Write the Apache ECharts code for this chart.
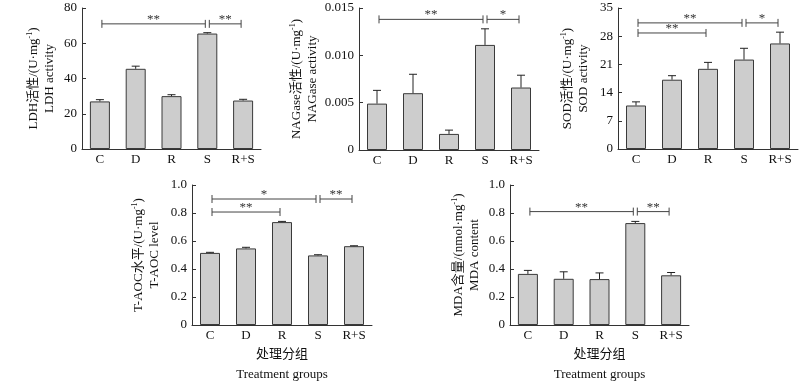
<!DOCTYPE html>
<html>
<head>
<meta charset="utf-8">
<script src="https://cdn.jsdelivr.net/npm/echarts@6/dist/echarts.min.js"></script>
<style>
  html, body { margin: 0; padding: 0; background: #fff; }
  #main { width: 810px; height: 388px; }
</style>
</head>
<body>
<div id="main"></div>
<script>
var categories = ['C', 'D', 'R', 'S', 'R+S']

// mean values and error bars (upper part only)
var ldhMean = [27, 45.5, 30, 65.5, 27.5]
var ldhErr = [1, 1.5, 0.8, 0.5, 0.7]
var nagMean = [0.0049, 0.006, 0.0017, 0.0111, 0.0066]
var nagErr = [0.0014, 0.002, 0.0004, 0.0017, 0.0013]
var sodMean = [10.8, 17.2, 19.9, 22.2, 26.2]
var sodErr = [0.9, 1.0, 1.6, 2.8, 2.8]
var taocMean = [0.515, 0.547, 0.735, 0.497, 0.563]
var taocErr = [0.004, 0.008, 0.005, 0.005, 0.003]
var mdaMean = [0.365, 0.33, 0.328, 0.728, 0.355]
var mdaErr = [0.025, 0.05, 0.044, 0.012, 0.02]

// significance brackets: [from, to, level, stars]
var ldhSig = [['C', 'S', 71, '**'], ['S', 'R+S', 71, '**']]
var nagSig = [['C', 'S', 0.0138, '**'], ['S', 'R+S', 0.0138, '*']]
var sodSig = [['C', 'S', 31.3, '**'], ['S', 'R+S', 31.3, '*'], ['C', 'R', 28.8, '**']]
var taocSig = [['C', 'S', 0.9, '*'], ['S', 'R+S', 0.9, '**'], ['C', 'R', 0.807, '**']]
var mdaSig = [['C', 'S', 0.81, '**'], ['S', 'R+S', 0.81, '**']]

var FONT = '"Liberation Serif", "Times New Roman", "Noto Sans CJK SC", serif'
var AXIS_COLOR = '#333'

var panels = [
  { mean: ldhMean, err: ldhErr, sig: ldhSig, max: 80, interval: 20, digits: 0,
    title: ['LDH活性/(U·mg', 'LDH activity'], gap: 24,
    grid: { left: 82, top: 8, width: 179, height: 141 } },
  { mean: nagMean, err: nagErr, sig: nagSig, max: 0.015, interval: 0.005, digits: 3,
    title: ['NAGase活性/(U·mg', 'NAGase activity'], gap: 38,
    grid: { left: 359, top: 8, width: 180, height: 142 } },
  { mean: sodMean, err: sodErr, sig: sodSig, max: 35, interval: 7, digits: 0,
    title: ['SOD活性/(U·mg', 'SOD activity'], gap: 26,
    grid: { left: 618, top: 8, width: 180, height: 141 } },
  { mean: taocMean, err: taocErr, sig: taocSig, max: 1, interval: 0.2, digits: 1,
    title: ['T-AOC水平/(U·mg', 'T-AOC level'], gap: 29, xName: true,
    grid: { left: 192, top: 185, width: 180, height: 140 } },
  { mean: mdaMean, err: mdaErr, sig: mdaSig, max: 1, interval: 0.2, digits: 1,
    title: ['MDA含量/(nmol·mg', 'MDA content'], gap: 27, xName: true,
    grid: { left: 510, top: 185, width: 179, height: 140 } }
]

var grids = []
var xAxes = []
var yAxes = []
var series = []

panels.forEach(function (p, i) {
  grids.push(p.grid)
  xAxes.push({
    type: 'category',
    gridIndex: i,
    data: categories,
    axisLine: { lineStyle: { color: AXIS_COLOR, width: 1 } },
    axisTick: { inside: true, length: 4, lineStyle: { color: AXIS_COLOR } },
    axisLabel: { color: '#111', fontSize: 13, fontFamily: FONT, margin: 4 },
    name: p.xName ? '处理分组\nTreatment groups' : '',
    nameLocation: 'middle',
    nameGap: 20,
    nameTextStyle: { color: '#111', fontSize: 13, fontFamily: FONT, lineHeight: 20 }
  })
  yAxes.push({
    type: 'value',
    gridIndex: i,
    min: 0,
    max: p.max,
    interval: p.interval,
    splitLine: { show: false },
    axisLine: { show: true, lineStyle: { color: AXIS_COLOR, width: 1 } },
    axisTick: { show: true, inside: true, length: 4, lineStyle: { color: AXIS_COLOR } },
    axisLabel: {
      color: '#111', fontSize: 13, fontFamily: FONT, margin: 5,
      formatter: function (v) { return v === 0 ? '0' : v.toFixed(p.digits) }
    },
    name: '{a|' + p.title[0] + '}{s|-1}{a|)}\n{a|' + p.title[1] + '}',
    nameLocation: 'middle',
    nameRotate: 90,
    nameGap: p.gap,
    nameTextStyle: {
      color: '#111',
      fontFamily: FONT,
      fontSize: 13,
      lineHeight: 16,
      rich: {
        a: { fontSize: 13, fontFamily: FONT, color: '#111', lineHeight: 16 },
        s: { fontSize: 8, fontFamily: FONT, color: '#111', verticalAlign: 'top', lineHeight: 16 }
      }
    }
  })

  series.push({
    type: 'bar',
    xAxisIndex: i,
    yAxisIndex: i,
    barWidth: 20,
    data: p.mean,
    itemStyle: { color: '#cdcdcd', borderColor: '#3a3a3a', borderWidth: 1 },
    silent: true
  })

  // upper error bars
  series.push({
    type: 'custom',
    xAxisIndex: i,
    yAxisIndex: i,
    silent: true,
    encode: { x: 0, y: 1 },
    data: p.mean.map(function (m, k) { return [k, m, p.err[k]] }),
    renderItem: function (params, api) {
      var k = api.value(0)
      var base = api.coord([k, api.value(1)])
      var top = api.coord([k, api.value(1) + api.value(2)])
      var style = { stroke: '#222', lineWidth: 1 }
      return {
        type: 'group',
        children: [
          { type: 'line', shape: { x1: base[0], y1: base[1], x2: top[0], y2: top[1] }, style: style },
          { type: 'line', shape: { x1: top[0] - 4, y1: top[1], x2: top[0] + 4, y2: top[1] }, style: style }
        ]
      }
    },
    z: 3
  })

  // significance brackets
  series.push({
    type: 'custom',
    xAxisIndex: i,
    yAxisIndex: i,
    silent: true,
    encode: { x: 0, y: 2 },
    data: p.sig.map(function (s) {
      return [categories.indexOf(s[0]), categories.indexOf(s[1]), s[2], s[3]]
    }),
    renderItem: function (params, api) {
      var a = api.coord([api.value(0), api.value(2)])
      var b = api.coord([api.value(1), api.value(2)])
      var x1 = a[0] + 2
      var x2 = b[0] - 2
      var y = a[1]
      var style = { stroke: '#444', lineWidth: 1 }
      return {
        type: 'group',
        children: [
          { type: 'line', shape: { x1: x1, y1: y, x2: x2, y2: y }, style: style },
          { type: 'line', shape: { x1: x1, y1: y - 4, x2: x1, y2: y + 4 }, style: style },
          { type: 'line', shape: { x1: x2, y1: y - 4, x2: x2, y2: y + 4 }, style: style },
          {
            type: 'text',
            x: (x1 + x2) / 2,
            y: y + 2,
            style: {
              text: p.sig[params.dataIndex][3],
              fill: '#333',
              font: '13px ' + FONT,
              align: 'center',
              verticalAlign: 'bottom'
            }
          }
        ]
      }
    },
    z: 4
  })
})

var chart = echarts.init(document.getElementById('main'))
chart.setOption({
  animation: false,
  grid: grids,
  xAxis: xAxes,
  yAxis: yAxes,
  series: series
})
</script>
</body>
</html>
